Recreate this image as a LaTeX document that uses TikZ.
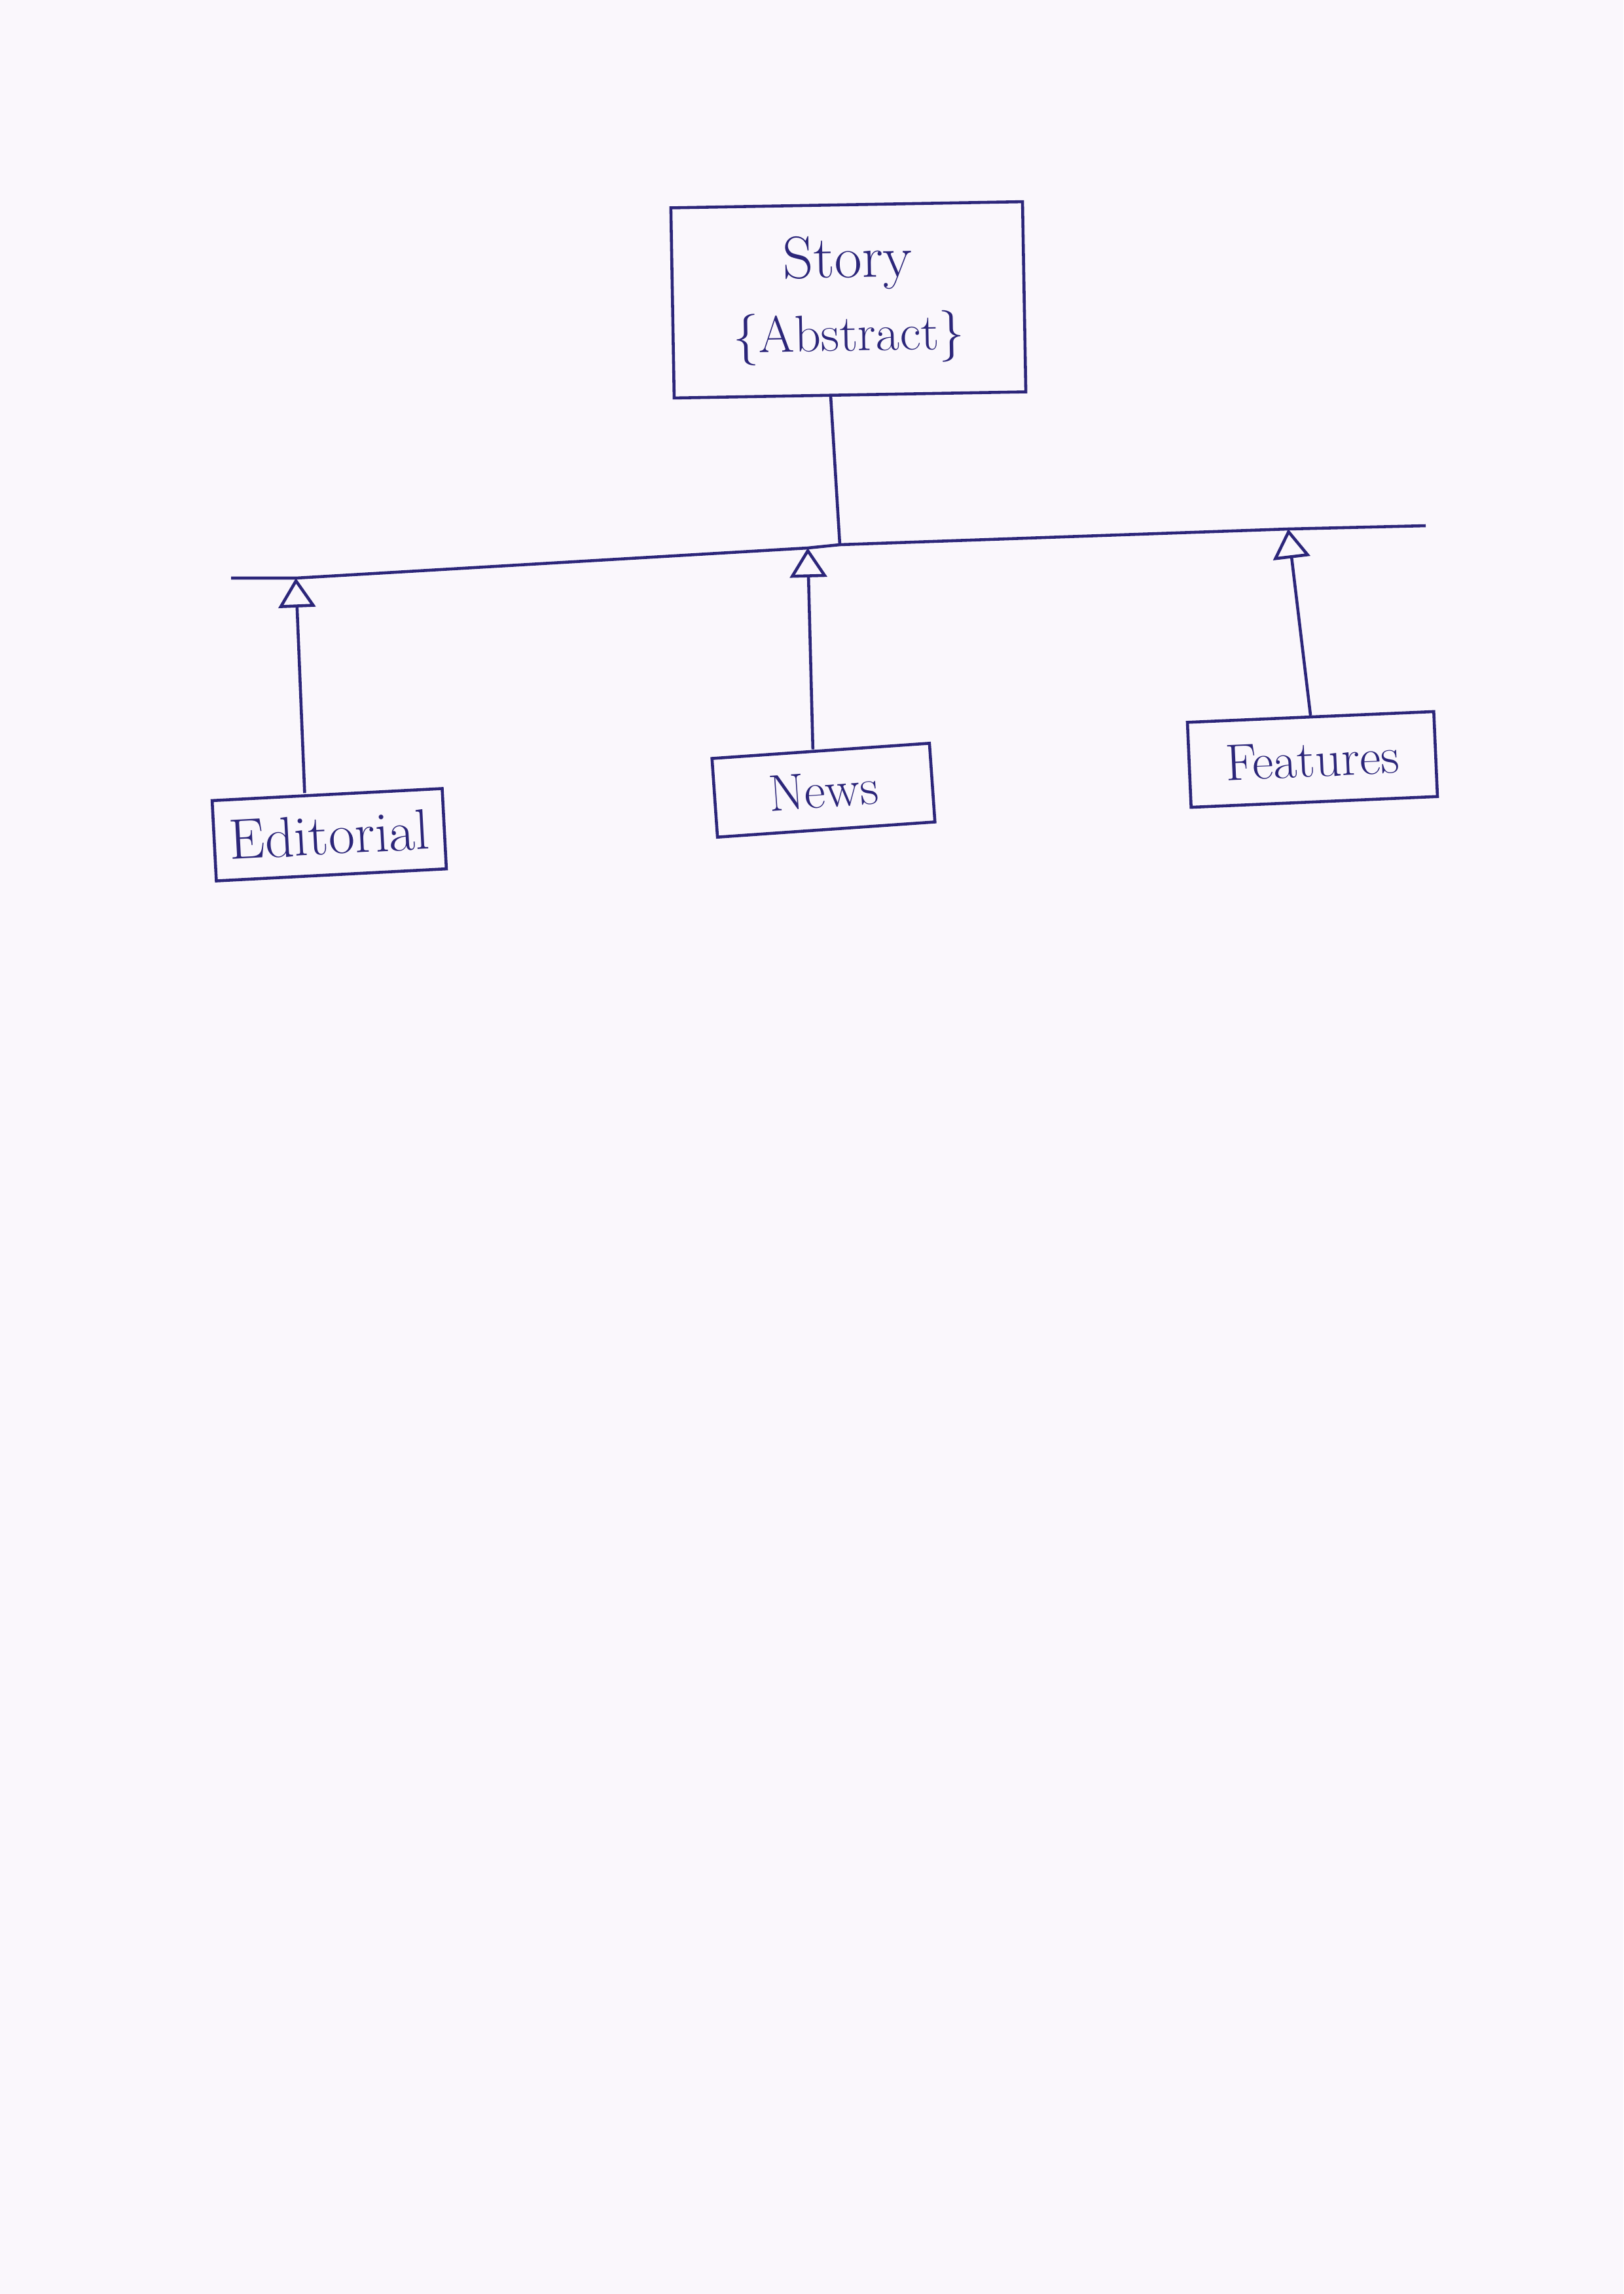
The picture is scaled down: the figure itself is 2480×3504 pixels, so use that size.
\documentclass[tikz,border=0pt]{standalone}
\usetikzlibrary{arrows.meta}
\definecolor{ink}{RGB}{44,38,122}
\definecolor{paper}{RGB}{250,247,252}

\begin{document}
\begin{tikzpicture}[x=0.0084677cm, y=-0.0084677cm, line width=1.1pt,
  every node/.append style={font=\fontsize{19}{27}\selectfont, text=ink},
  classbox/.style={draw=ink, inner sep=0pt},
  inherit/.style={draw=ink, -{Triangle[open, length=0.38cm, width=0.48cm]}}]
% paper
\fill[paper] (0,0) rectangle (2480,3504);
\useasboundingbox (0,0) rectangle (2480,3504);

% classes
\node[classbox, minimum width=4.55cm, minimum height=2.46cm, rotate=1, align=center] (story) at (1296,458) {\fontsize{22}{27}\selectfont Story\\\{Abstract\}};
\node[classbox, minimum width=2.98cm, minimum height=1.04cm, rotate=3, font=\fontsize{21}{25}\selectfont] (editorial) at (503,1275) {Editorial};
\node[classbox, minimum width=2.82cm, minimum height=1.02cm, rotate=4] (news) at (1258,1207) {News};
\node[classbox, minimum width=3.19cm, minimum height=1.10cm, rotate=2.5] (features) at (2005,1160) {Features};

% generalisation bar
\coordinate (barL)      at (353,883);
\coordinate (edTip)     at (452,883);
\coordinate (newsTip)   at (1234,837);
\coordinate (storyFoot) at (1283,832);
\coordinate (featTip)   at (1968,808);
\coordinate (barR)      at (2178,803);
\draw[ink] (barL) -- (edTip) -- (newsTip) -- (storyFoot) -- (featTip) -- (barR);
\draw[ink] ([xshift=-0.25cm]story.south) -- (storyFoot);

% subclasses
\draw[inherit] ([xshift=-0.29cm]editorial.north) -- (edTip);
\draw[inherit] ([xshift=-0.1cm]news.north) -- (newsTip);
\draw[inherit] (features.north) -- (featTip);

\end{tikzpicture}
\end{document}
